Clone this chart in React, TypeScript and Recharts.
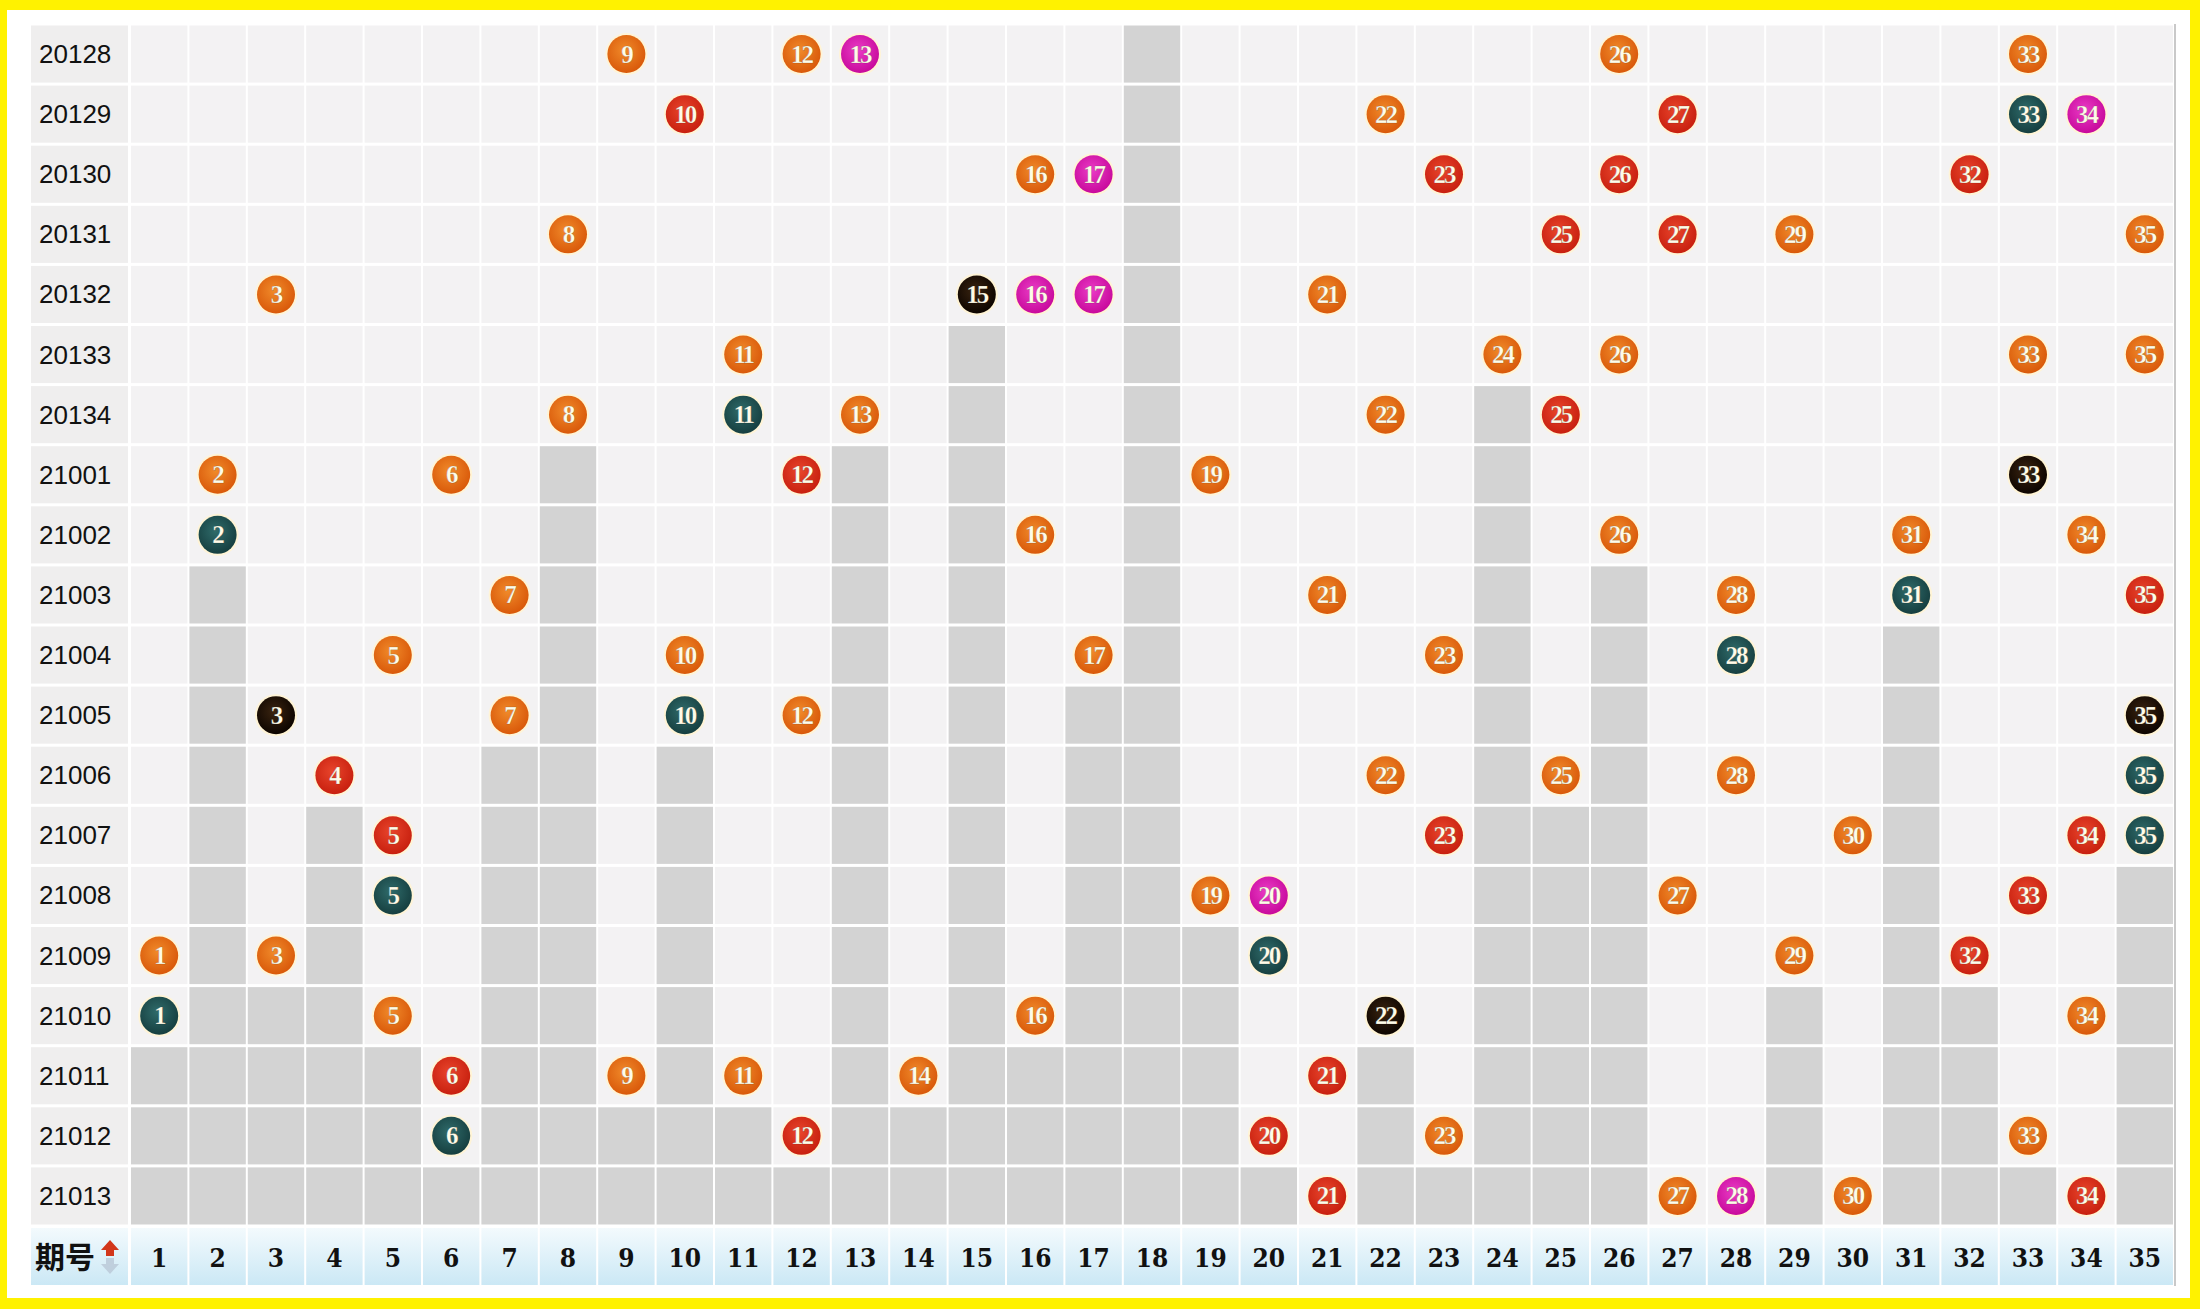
import { Scatter, ScatterChart, XAxis, YAxis } from 'recharts';

const issues = [
  '20128', '20129', '20130', '20131', '20132', '20133', '20134',
  '21001', '21002', '21003', '21004', '21005', '21006', '21007',
  '21008', '21009', '21010', '21011', '21012', '21013',
];

const numbers = [
  1, 2, 3, 4, 5, 6, 7, 8, 9, 10, 11, 12, 13, 14, 15, 16, 17, 18,
  19, 20, 21, 22, 23, 24, 25, 26, 27, 28, 29, 30, 31, 32, 33, 34, 35,
];

// front-zone numbers drawn in each issue
const draws = [
  [9, 12, 13, 26, 33],
  [10, 22, 27, 33, 34],
  [16, 17, 23, 26, 32],
  [8, 25, 27, 29, 35],
  [3, 15, 16, 17, 21],
  [11, 24, 26, 33, 35],
  [8, 11, 13, 22, 25],
  [2, 6, 12, 19, 33],
  [2, 16, 26, 31, 34],
  [7, 21, 28, 31, 35],
  [5, 10, 17, 23, 28],
  [3, 7, 10, 12, 35],
  [4, 22, 25, 28, 35],
  [5, 23, 30, 34, 35],
  [5, 19, 20, 27, 33],
  [1, 3, 20, 29, 32],
  [1, 5, 16, 22, 34],
  [6, 9, 11, 14, 21],
  [6, 12, 20, 23, 33],
  [21, 27, 28, 30, 34],
];

// ball kind per draw: o = plain, r = neighbour, t = repeat, m = consecutive, k = mixed
const kinds = [
  'oomoo', 'rortm', 'omrrr', 'orroo', 'okmmo', 'ooooo', 'otoor',
  'oorok', 'toooo', 'oootr', 'oooot', 'kotok', 'rooot', 'rrort',
  'tomor', 'ootor', 'tooko', 'rooor', 'trroo', 'romor',
];

const ballColor: Record<string, [string, string]> = {
  o: ['#f08a2a', '#d9590a'],
  r: ['#e8452c', '#c8200f'],
  t: ['#2f6b6a', '#163f40'],
  m: ['#ea3cc6', '#c80a9c'],
  k: ['#3a2410', '#0d0500'],
};

const W = 2200;
const H = 1309;
const M = { top: 24, right: 26, bottom: 23, left: 31 };
const LABEL_W = 99;
const HEAD_H = 60;
const PLOT_W = W - M.left - M.right - LABEL_W;
const PLOT_H = H - M.top - M.bottom - HEAD_H;
const CW = PLOT_W / numbers.length;
const RH = PLOT_H / issues.length;

const lastSeen = numbers.map((n) => {
  let last = -1;
  draws.forEach((d, i) => {
    if (d.includes(n)) last = i;
  });
  return last;
});

const cells = issues.flatMap((_, row) =>
  numbers.map((col, ci) => ({ col, row, grey: row > lastSeen[ci] })),
);

const balls = draws.flatMap((d, row) =>
  d.map((col, k) => ({ col, row, kind: (kinds[row] || '')[k] || 'o' })),
);

function CellShape(props: any) {
  const { cx, cy, payload } = props;
  if (cx == null || cy == null) return null;
  return (
    <rect
      x={cx - CW / 2 + 1}
      y={cy - RH / 2 + 1.5}
      width={CW - 2}
      height={RH - 3}
      fill={payload.grey ? '#d3d3d3' : '#f3f2f3'}
    />
  );
}

function BallShape(props: any) {
  const { cx, cy, payload } = props;
  if (cx == null || cy == null) return null;
  const kind = payload.kind in ballColor ? payload.kind : 'o';
  return (
    <g>
      <circle cx={cx} cy={cy} r={21} fill="#fff4d6" />
      <circle cx={cx} cy={cy} r={19} fill={`url(#ball-${kind})`} />
      <text
        x={cx}
        y={cy + 8.5}
        textAnchor="middle"
        fontFamily="'Liberation Serif', serif"
        fontWeight="bold"
        fontSize={25}
        letterSpacing={-2}
        fill="#fffbe8"
        stroke="rgba(0,0,0,0.25)"
        strokeWidth={0.6}
      >
        {payload.col}
      </text>
    </g>
  );
}

function HeaderTick(props: any) {
  const { x, y, payload } = props;
  return (
    <g>
      <rect x={x - CW / 2 + 1} y={y + 2} width={CW - 2} height={HEAD_H - 3} fill="url(#head-bg)" />
      <text
        x={x}
        y={y + 41}
        textAnchor="middle"
        fontFamily="'DejaVu Serif Condensed', 'DejaVu Serif', serif"
        fontWeight="bold"
        fontSize={26}
        fill="#111"
      >
        {payload.value}
      </text>
    </g>
  );
}

function IssueTick(props: any) {
  const { x, y, payload } = props;
  return (
    <g>
      <rect x={x - LABEL_W} y={y - RH / 2 + 1.5} width={LABEL_W - 2} height={RH - 3} fill="#efeeee" />
      <text
        x={x - LABEL_W + 8}
        y={y + 9}
        fontFamily="'Liberation Sans', Arial, sans-serif"
        fontSize={26}
        fill="#111"
      >
        {issues[payload.value]}
      </text>
    </g>
  );
}

function Corner(props: any) {
  const vb = props.viewBox || {};
  const left = (vb.x ?? M.left + LABEL_W) - LABEL_W;
  const top = vb.y ?? M.top + PLOT_H;
  return (
    <g>
      <rect x={left} y={top + 2} width={LABEL_W - 2} height={HEAD_H - 3} fill="url(#head-bg)" />
      <text
        x={left + 4}
        y={top + 42}
        fontFamily="'Noto Sans CJK SC', sans-serif"
        fontWeight="bold"
        fontSize={30}
        fill="#111"
      >
        期号
      </text>
      <path d={`M${left + 70},${top + 24} l9,-10 l9,10 h-5 v6 h-8 v-6 z`} fill="#d2361a" />
      <path d={`M${left + 70},${top + 38} l9,10 l9,-10 h-5 v-6 h-8 v6 z`} fill="#b9c7d6" opacity={0.8} />
    </g>
  );
}

export default function App() {
  return (
    <div style={{ position: 'absolute', left: 0, top: 0, width: W, height: H, background: '#fff200' }}>
      <div style={{ position: 'absolute', left: 7, top: 10, width: 2183, height: 1288, background: '#ffffff' }} />
      <div
        style={{
          position: 'absolute',
          left: M.left + LABEL_W + PLOT_W,
          top: M.top,
          width: 2,
          height: PLOT_H + HEAD_H,
          background: '#c9c9c9',
        }}
      />
      <div style={{ position: 'absolute', left: 0, top: 0 }}>
        <ScatterChart width={W} height={H} margin={M}>
          <defs>
            <linearGradient id="head-bg" x1="0" y1="0" x2="0" y2="1">
              <stop offset="0%" stopColor="#f3fafd" />
              <stop offset="100%" stopColor="#cbe8f5" />
            </linearGradient>
            {Object.entries(ballColor).map(([k, [c1, c2]]) => (
              <radialGradient key={k} id={`ball-${k}`} cx="45%" cy="40%" r="60%">
                <stop offset="0%" stopColor={c1} />
                <stop offset="100%" stopColor={c2} />
              </radialGradient>
            ))}
          </defs>
          <XAxis
            type="number"
            dataKey="col"
            domain={[0.5, 35.5]}
            ticks={numbers}
            interval={0}
            axisLine={false}
            tickLine={false}
            tickSize={0}
            tickMargin={0}
            height={HEAD_H}
            tick={<HeaderTick />}
            label={<Corner />}
          />
          <YAxis
            type="number"
            dataKey="row"
            domain={[-0.5, issues.length - 0.5]}
            reversed
            ticks={issues.map((_, i) => i)}
            interval={0}
            axisLine={false}
            tickLine={false}
            tickSize={0}
            tickMargin={0}
            width={LABEL_W}
            tick={<IssueTick />}
          />
          <Scatter data={cells} shape={<CellShape />} isAnimationActive={false} />
          <Scatter data={balls} shape={<BallShape />} isAnimationActive={false} />
        </ScatterChart>
      </div>
    </div>
  );
}
